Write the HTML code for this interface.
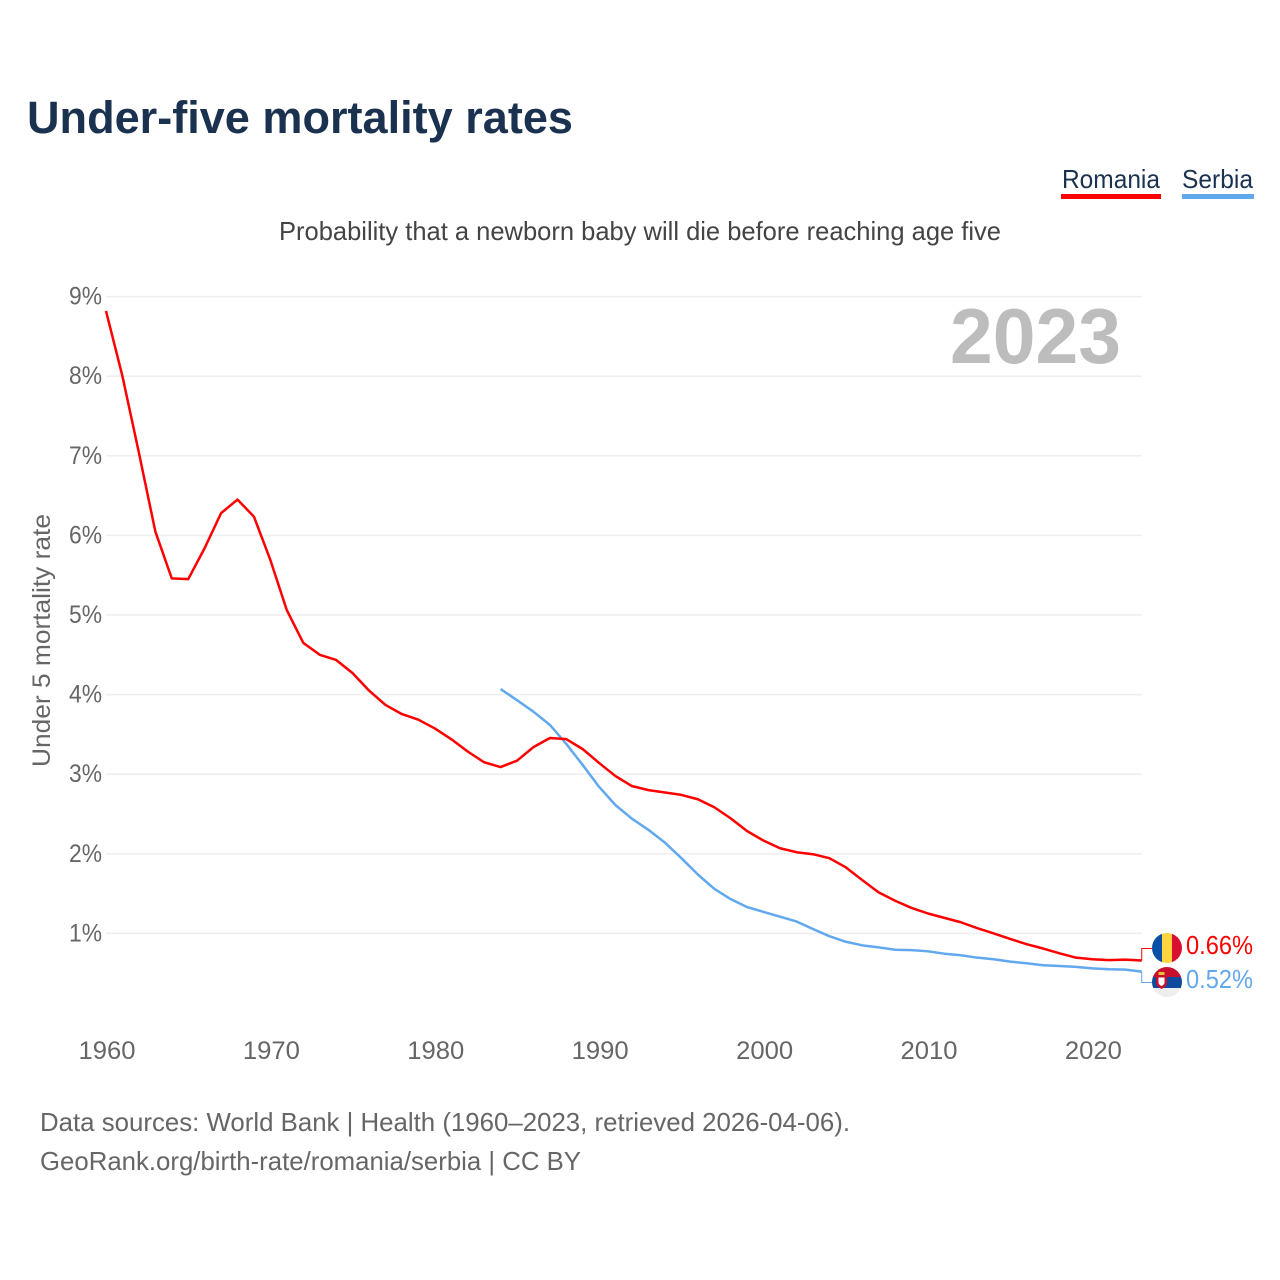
<!DOCTYPE html>
<html lang="en">
<head>
<meta charset="utf-8">
<title>Under-five mortality rates</title>
<style>
html,body{margin:0;padding:0;background:#fff;}
svg{display:block;font-family:"Liberation Sans",sans-serif;}
</style>
</head>
<body>
<svg id="chart" width="1280" height="1280" viewBox="0 0 1280 1280" xmlns="http://www.w3.org/2000/svg">
  <rect width="1280" height="1280" fill="#fff"/>
  <text x="27" y="133" font-size="45" font-weight="700" fill="#1a3150" textLength="546" lengthAdjust="spacingAndGlyphs">Under-five mortality rates</text>
  <g>
    <g>
      <text x="1062" y="188" font-size="26" fill="#1a3150" textLength="98" lengthAdjust="spacingAndGlyphs">Romania</text>
      <rect x="1061" y="194" width="100" height="5" fill="#ff0000"/>
    </g>
    <g>
      <text x="1182" y="188" font-size="26" fill="#1a3150" textLength="71" lengthAdjust="spacingAndGlyphs">Serbia</text>
      <rect x="1182" y="194" width="72" height="5" fill="#62a8ee"/>
    </g>
  </g>
  <text x="279" y="240" font-size="26" fill="#444" textLength="722" lengthAdjust="spacingAndGlyphs">Probability that a newborn baby will die before reaching age five</text>
  <g id="grid"></g>
  <g id="yticks"></g>
  <g id="xticks"></g>
  <text transform="translate(50,767) rotate(-90)" x="0" y="0" font-size="25" fill="#666" textLength="253" lengthAdjust="spacingAndGlyphs">Under 5 mortality rate</text>
  <text id="year-label" x="950" y="363" font-size="78" font-weight="700" fill="#bdbdbd" textLength="171" lengthAdjust="spacingAndGlyphs">2023</text>
  <g id="series"></g>
  <defs>
    <clipPath id="clip-ro"><circle cx="1167" cy="948" r="15"/></clipPath>
    <clipPath id="clip-rs"><circle cx="1167" cy="982" r="15"/></clipPath>
  </defs>
  <g clip-path="url(#clip-ro)">
    <rect x="1152" y="933" width="10" height="30" fill="#0a4fa8"/>
    <rect x="1162" y="933" width="10" height="30" fill="#ffd43e"/>
    <rect x="1172" y="933" width="10" height="30" fill="#d80f2f"/>
  </g>
  <g clip-path="url(#clip-rs)">
    <rect x="1152" y="967" width="30" height="10" fill="#c8102e"/>
    <rect x="1152" y="977" width="30" height="11" fill="#0c4a9e"/>
    <rect x="1152" y="988" width="30" height="9" fill="#eeeeee"/>
    <path d="M1156 975h11v8q0 3-5.500 6q-5.500-3-5.500-6z" fill="#c8102e"/>
    <path d="M1158.500 977.500h6v5q0 2-3 3.500q-3-1.500-3-3.500z" fill="#fff"/>
    <rect x="1158.500" y="972" width="6" height="3" fill="#f0c030"/>
  </g>
  <g id="end-labels"></g>
  <text x="40" y="1131" font-size="26" fill="#666" textLength="810" lengthAdjust="spacingAndGlyphs">Data sources: World Bank | Health (1960–2023, retrieved 2026-04-06).</text>
  <text x="40" y="1170" font-size="26" fill="#666" textLength="541" lengthAdjust="spacingAndGlyphs">GeoRank.org/birth-rate/romania/serbia | CC BY</text>
</svg>
<script>
const romaniaStartYear = 1960;
const serbiaStartYear = 1984;
const romaniaValues = [8.82,8.00,7.04,6.05,5.46,5.45,5.84,6.28,6.45,6.235,5.69,5.06,4.65,4.50,4.435,4.27,4.05,3.87,3.755,3.685,3.575,3.44,3.285,3.15,3.09,3.17,3.34,3.455,3.44,3.315,3.14,2.975,2.85,2.80,2.77,2.74,2.685,2.585,2.445,2.285,2.165,2.07,2.02,1.995,1.945,1.83,1.67,1.515,1.41,1.32,1.25,1.195,1.14,1.065,1.00,0.93,0.865,0.81,0.75,0.695,0.675,0.665,0.67,0.66];
const serbiaValues = [4.07,3.93,3.785,3.62,3.38,3.115,2.84,2.61,2.44,2.30,2.14,1.945,1.74,1.56,1.43,1.33,1.27,1.21,1.15,1.055,0.965,0.895,0.85,0.825,0.795,0.79,0.775,0.745,0.725,0.695,0.675,0.645,0.625,0.60,0.59,0.58,0.56,0.55,0.545,0.52];
const yTickValues = [1,2,3,4,5,6,7,8,9];
const xTickYears = [1960,1970,1980,1990,2000,2010,2020];

const NS = 'http://www.w3.org/2000/svg';
function xScale(year){ return 106 + (year - 1960) * 16.44; }
function yScale(v){ return 1013 - v * 79.6; }
function mk(tag, parent, attrs){
  const el = document.createElementNS(NS, tag);
  for (const k in attrs) el.setAttribute(k, attrs[k]);
  parent.appendChild(el);
  return el;
}
const grid = document.getElementById('grid');
const yticks = document.getElementById('yticks');
const xticks = document.getElementById('xticks');
const series = document.getElementById('series');
const endLabels = document.getElementById('end-labels');

yTickValues.forEach(function(v){
  const line = mk('rect', grid, {x:106, y:yScale(v)-0.75, width:1036, height:1.5, fill:'#eeeeee'});
  
  
  const t = mk('text', yticks, {x:102, y:yScale(v)+8, 'text-anchor':'end', 'font-size':25, fill:'#666', textLength:33, lengthAdjust:'spacingAndGlyphs'});
  
  
  t.textContent = v + '%';
});
xTickYears.forEach(function(y){
  const t = mk('text', xticks, {x:xScale(y)+1, y:1059, 'text-anchor':'middle', 'font-size':25, fill:'#666', textLength:57, lengthAdjust:'spacingAndGlyphs'});
  
  
  t.textContent = y;
});
function drawLine(values, start, color, name){
  const d = values.map(function(v, i){
    return (i ? 'L' : 'M') + xScale(start + i).toFixed(2) + ' ' + yScale(v).toFixed(2);
  }).join('');
  const p = mk('path', series, {d:d, fill:'none', stroke:color, 'stroke-width':2.5, 'stroke-linejoin':'round'});
  
  
}
drawLine(serbiaValues, serbiaStartYear, '#62a8ee', 'line-serbia');
drawLine(romaniaValues, romaniaStartYear, '#ff0000', 'line-romania');

function drawEnd(values, start, color, labelY, connY, name){
  const last = values[values.length - 1];
  const lx = xScale(start + values.length - 1);
  const c = mk('path', endLabels, {d:'M' + lx + ' ' + yScale(last) + 'V' + connY + 'H1152', fill:'none', stroke:color, 'stroke-width':1});
  
  
  const t = mk('text', endLabels, {x:1186, y:labelY, 'font-size':25.5, fill:color, textLength:67, lengthAdjust:'spacingAndGlyphs'});
  
  
  t.textContent = last.toFixed(2) + '%';
}
drawEnd(romaniaValues, romaniaStartYear, '#ff0000', 954, 948.500, 'romania');
drawEnd(serbiaValues, serbiaStartYear, '#62a8ee', 988, 982.500, 'serbia');
</script>
</body>
</html>
